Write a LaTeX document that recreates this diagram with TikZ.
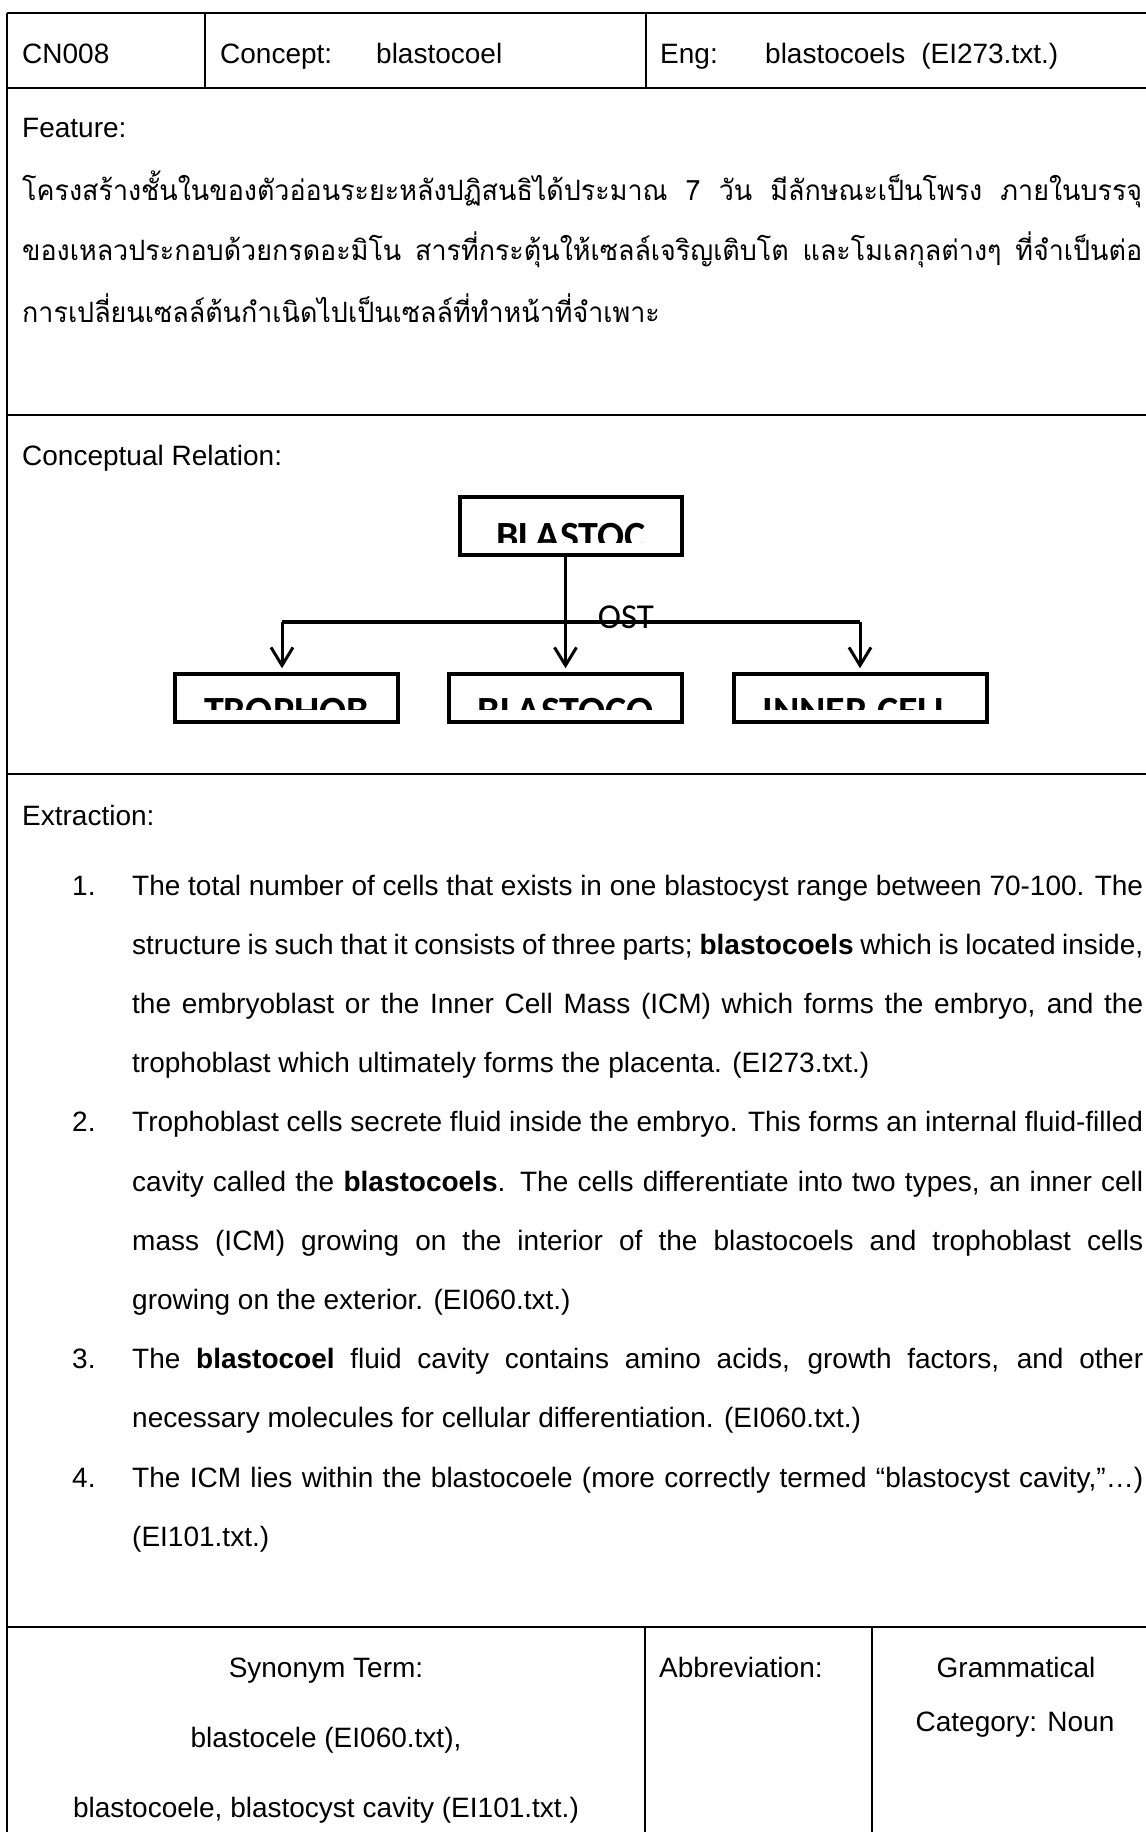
\documentclass[tikz,border=0pt]{standalone}
\usepackage{fontspec}
\setmainfont{Liberation Sans}
\newfontfamily\thaifont[Script=Thai,FakeStretch=0.96]{Loma}
\newfontfamily\boxfont{Carlito}
\usetikzlibrary{arrows.meta}

\newcommand\bodysize{\fontsize{28}{34}\selectfont}
\newcommand\thaisize{\fontsize{28}{34}\selectfont}
\newcommand\jline[1]{\hbox to 1011pt{#1}}
\newcommand\thline[1]{\hbox to 1120pt{\thaifont\thaisize #1}}

\tikzset{
  rule/.style={line width=2.5pt},
  thinrule/.style={line width=1.6pt},
  cell/.style={inner sep=0pt, anchor=base west, font=\bodysize},
  ctext/.style={inner sep=0pt, anchor=base, font=\bodysize},
  conbox/.style={draw, line width=3.5pt, rectangle, inner sep=0pt},
  boxlabel/.style={inner sep=0pt, anchor=base, font=\boxfont\bfseries\fontsize{40}{48}\selectfont},
  link/.style={line width=3pt, shorten >=4pt, -{Straight Barb[length=18pt,width=22pt]}},
  bus/.style={line width=3.5pt},
}

\begin{document}
\begin{tikzpicture}[x=1pt,y=-1pt]
\useasboundingbox (0,0) rectangle (1146,1832);
\fill[white] (0,0) rectangle (1146,1832);

% ---- table rules ----
\draw[rule] (7,13) -- (1146,13);
\draw[rule] (7,13) -- (7,1832);
\draw[thinrule] (7,88) -- (1146,88);
\draw[thinrule] (205,13) -- (205,88);
\draw[thinrule] (646,13) -- (646,88);
\draw[rule] (7,415) -- (1146,415);
\draw[rule] (7,774) -- (1146,774);
\draw[rule] (7,1627) -- (1146,1627);
\draw[thinrule] (645,1627) -- (645,1832);
\draw[thinrule] (872,1627) -- (872,1832);

% ---- header row ----
\node[cell] (id) at (22,63) {CN008};
\node[cell] (conceptlbl) at (220,63) {Concept:};
\node[cell] (concept) at (376,63) {blastocoel};
\node[cell] (englbl) at (660,63) {Eng:};
\node[cell] (eng) at (765,63) {blastocoels\hspace{16pt}(EI273.txt.)};

% ---- feature ----
\node[cell] (featlbl) at (22,137) {Feature:};
\node[cell] (th1) at (22,200) {\thline{โครงสร้างชั้นในของตัวอ่อนระยะหลังปฏิสนธิได้ประมาณ 7 วัน มีลักษณะเป็นโพรง ภายในบรรจุ}};
\node[cell] (th2) at (22,260) {\thline{ของเหลวประกอบด้วยกรดอะมิโน สารที่กระตุ้นให้เซลล์เจริญเติบโต และโมเลกุลต่างๆ ที่จำเป็นต่อ}};
\node[cell] (th3) at (22,322) {\thaifont\thaisize การเปลี่ยนเซลล์ต้นกำเนิดไปเป็นเซลล์ที่ทำหน้าที่จำเพาะ};

% ---- conceptual relation ----
\node[cell] (rellbl) at (22,465) {Conceptual Relation:};

\node[conbox, minimum width=222pt, minimum height=58pt] (top) at (571,526) {};
\node[conbox, minimum width=223pt, minimum height=48pt] (troph) at (286.5,698) {};
\node[conbox, minimum width=233pt, minimum height=48pt] (bmid) at (565.5,698) {};
\node[conbox, minimum width=253pt, minimum height=48pt] (inner) at (860.5,698) {};

\begin{scope}
  \clip (462,499) rectangle (680,542);
  \node[boxlabel] (topT) at (571,549) {BLASTOC};
\end{scope}
\begin{scope}
  \clip (177,676) rectangle (396,709);
  \node[boxlabel] (trophT) at (286.5,724) {TROPHOB};
\end{scope}
\begin{scope}
  \clip (451,676) rectangle (680,709);
  \node[boxlabel] (bmidT) at (565.5,724) {BLASTOCO};
\end{scope}
\begin{scope}
  \clip (736,676) rectangle (985,709);
  \node[boxlabel] (innerT) at (857,724) {INNER CELL};
\end{scope}

\node[inner sep=0pt, anchor=base, font=\boxfont\fontsize{35}{42}\selectfont] (ost) at (626,628) {OST};

\coordinate (jl) at (282,622);
\coordinate (jr) at (860,622);
\draw[bus] (jl) -- (jr);
\draw[link] (bmid.north |- top.south) -- (bmid.north);
\draw[link] (jl) -- (jl |- troph.north);
\draw[link] (jr) -- (jr |- inner.north);

% ---- extraction ----
\node[cell] (extlbl) at (22,825) {Extraction:};

\node[cell] (n1) at (72,895) {1.};
\node[cell] (e1) at (132,895) {\jline{The total number of cells that exists in one blastocyst range between 70-100. The}};
\node[cell] (e2) at (132,954.2) {\jline{structure is such that it consists of three parts; \textbf{blastocoels} which is located inside,}};
\node[cell] (e3) at (132,1013.4) {\jline{the embryoblast or the Inner Cell Mass (ICM) which forms the embryo, and the}};
\node[cell] (e4) at (132,1072.6) {trophoblast which ultimately forms the placenta. (EI273.txt.)};

\node[cell] (n2) at (72,1131.8) {2.};
\node[cell] (e5) at (132,1131.8) {\jline{Trophoblast cells secrete fluid inside the embryo. This forms an internal fluid-filled}};
\node[cell] (e6) at (132,1191) {\jline{cavity called the \textbf{blastocoels}. The cells differentiate into two types, an inner cell}};
\node[cell] (e7) at (132,1250.2) {\jline{mass (ICM) growing on the interior of the blastocoels and trophoblast cells}};
\node[cell] (e8) at (132,1309.4) {growing on the exterior. (EI060.txt.)};

\node[cell] (n3) at (72,1368.6) {3.};
\node[cell] (e9) at (132,1368.6) {\jline{The \textbf{blastocoel} fluid cavity contains amino acids, growth factors, and other}};
\node[cell] (e10) at (132,1427.8) {necessary molecules for cellular differentiation. (EI060.txt.)};

\node[cell] (n4) at (72,1487) {4.};
\node[cell] (e11) at (132,1487) {\jline{The ICM lies within the blastocoele (more correctly termed “blastocyst cavity,”…)}};
\node[cell] (e12) at (132,1546.2) {(EI101.txt.)};

% ---- bottom row ----
\node[ctext] (synlbl) at (326,1677) {Synonym Term:};
\node[ctext] (syn1) at (326,1747) {blastocele (EI060.txt),};
\node[ctext] (syn2) at (326,1817) {blastocoele, blastocyst cavity (EI101.txt.)};
\node[cell] (abbrlbl) at (659,1677) {Abbreviation:};
\node[ctext] (gramlbl) at (1016,1677) {Grammatical};
\node[ctext] (gram) at (1015,1731) {Category: Noun};
\end{tikzpicture}
\end{document}
